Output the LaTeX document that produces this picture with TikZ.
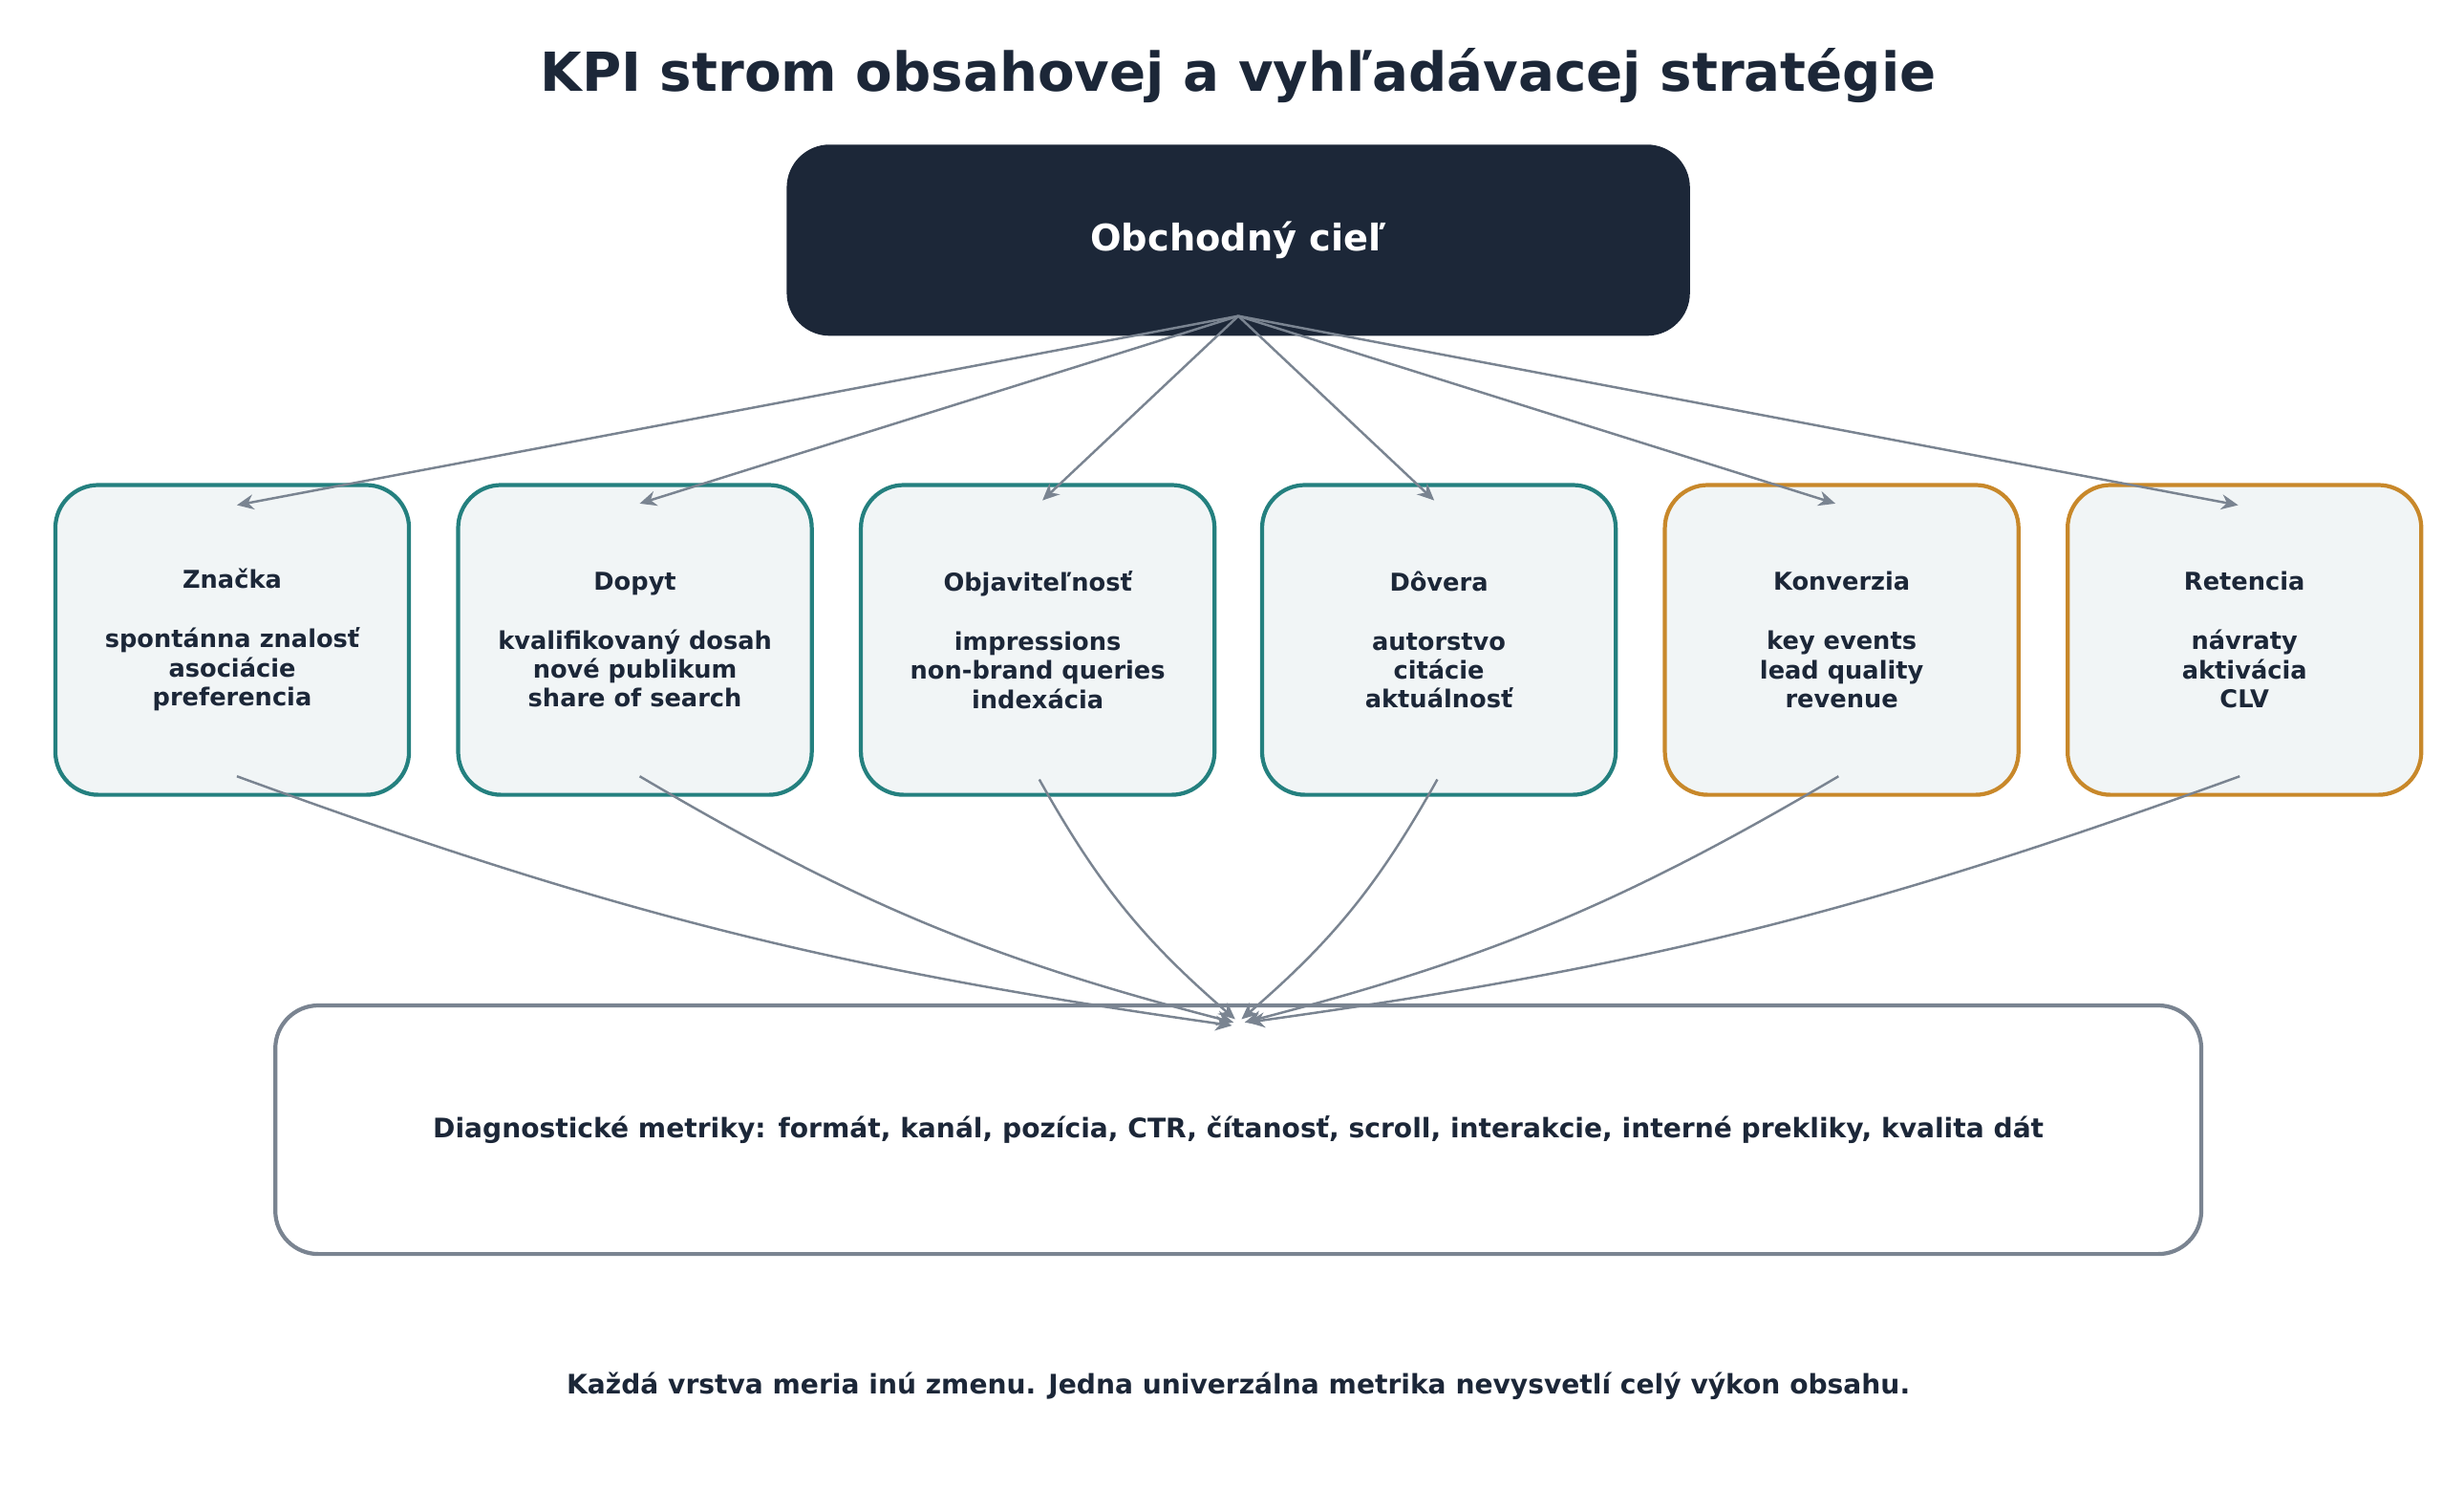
\documentclass[tikz,border=0pt]{standalone}
\usepackage{fontspec}
\setmainfont{DejaVu Sans}
\usetikzlibrary{positioning,calc,arrows.meta}
\definecolor{navy}{HTML}{1C2738}
\definecolor{teal}{HTML}{24807F}
\definecolor{ochre}{HTML}{C8882A}
\definecolor{pale}{HTML}{F1F5F6}
\definecolor{slate}{HTML}{7A8491}
\begin{document}
\begin{tikzpicture}[x=0.01653cm,y=-0.01653cm,
      kpi/.style = {draw,line width=1.2pt,fill=pale,rounded corners=0.45cm,
         minimum width=3.7cm,minimum height=3.24cm,align=center,
         text=navy,font=\bfseries\fontsize{7.3}{8.6}\selectfont},
      brand/.style = {kpi,draw=teal},
      money/.style = {kpi,draw=ochre},
      link/.style = {draw=slate,line width=0.7pt,-{Stealth[length=5pt,width=4.5pt]}}]

   \useasboundingbox (0,0) rectangle (1560,956);

   \node[text=navy,font=\bfseries\fontsize{16}{19}\selectfont] (title) at (784,48)
      {KPI strom obsahovej a vyhľadávacej stratégie};

   % goal
   \node[fill=navy,rounded corners=0.45cm,minimum width=9.45cm,minimum height=2cm,
      text=white,font=\bfseries\fontsize{10.9}{13}\selectfont] (goal) at (784,152)
      {Obchodný cieľ};
   \coordinate (hub) at (784,200);

   % KPI layer
   \node[brand] (znacka) at (147,405)
      {Značka\\[9pt] spontánna znalosť\\ asociácie\\ preferencia};
   \node[brand] (dopyt)  at (402,405)
      {Dopyt\\[9pt] kvalifikovaný dosah\\ nové publikum\\ share of search};
   \node[brand] (objav)  at (657,405)
      {Objaviteľnosť\\[9pt] impressions\\ non-brand queries\\ indexácia};
   \node[brand] (dovera) at (911,405)
      {Dôvera\\[9pt] autorstvo\\ citácie\\ aktuálnosť};
   \node[money] (konv)   at (1166,405)
      {Konverzia\\[9pt] key events\\ lead quality\\ revenue};
   \node[money] (retencia) at (1421,405)
      {Retencia\\[9pt] návraty\\ aktivácia\\ CLV};

   % diagnostics
   \node[draw=slate,line width=1.2pt,rounded corners=0.45cm,minimum width=20.15cm,
      minimum height=2.6cm,text=navy,font=\bfseries\fontsize{8}{10}\selectfont]
      (diag) at (784,715)
      {Diagnostické metriky: formát, kanál, pozícia, CTR, čítanosť, scroll, interakcie, interné prekliky, kvalita dát};

   \node[text=navy,font=\bfseries\fontsize{8}{10}\selectfont] (note) at (784,877)
      {Každá vrstva meria inú zmenu. Jedna univerzálna metrika nevysvetlí celý výkon obsahu.};

   % goal -> KPI
   \draw[link] (hub) -- ($(znacka.north)+(3,14)$);
   \draw[link] (hub) -- ($(dopyt.north)+(3,13)$);
   \draw[link] (hub) -- ($(objav.north)+(3,11)$);
   \draw[link] (hub) -- ($(dovera.north)+(-3,11)$);
   \draw[link] (hub) -- ($(konv.north)+(-4,13)$);
   \draw[link] (hub) -- ($(retencia.north)+(-4,14)$);

   % KPI -> diagnostics
   \draw[link] ($(znacka.south)+(3,-13)$) to[bend right=6] ($(diag.north)+(-4,14)$);
   \draw[link] ($(dopyt.south)+(3,-13)$) to[bend right=8] ($(diag.north)+(-3,12)$);
   \draw[link] ($(objav.south)+(1,-11)$) to[bend right=10] ($(diag.north)+(-2,10)$);
   \draw[link] ($(dovera.south)+(-1,-11)$) to[bend left=10] ($(diag.north)+(2,10)$);
   \draw[link] ($(konv.south)+(-2,-13)$) to[bend left=8] ($(diag.north)+(4,12)$);
   \draw[link] ($(retencia.south)+(-3,-13)$) to[bend left=6] ($(diag.north)+(6,12)$);
\end{tikzpicture}
\end{document}
